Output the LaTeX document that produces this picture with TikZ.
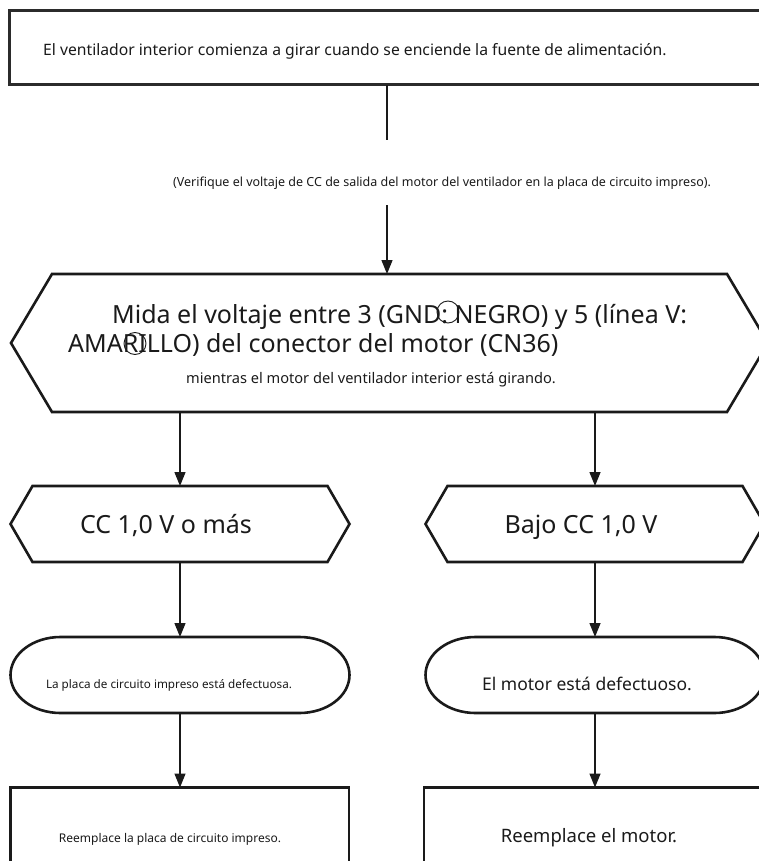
\documentclass[tikz,border=0pt]{standalone}
\usepackage{fontspec}
\setmainfont{Noto Sans}
\usetikzlibrary{arrows.meta}

\definecolor{ink}{HTML}{1A1A1A}
\definecolor{frame}{HTML}{2B2B2B}

\newcommand\fs[1]{\fontsize{#1}{1.2\dimexpr#1pt\relax}\selectfont}

\tikzset{
  shapebox/.style={inner sep=0pt, outer sep=0pt, minimum width=#1},
  rectbox/.style={draw=frame, line width=2.7pt, inner sep=0pt, outer sep=0pt},
  outline/.style={draw=ink, line width=2.6pt, line join=miter},
  flow/.style={draw=ink, line width=1.4pt, -{Triangle[length=14pt,width=11pt]}},
  plain/.style={draw=ink, line width=1.4pt},
  label/.style={inner sep=0pt, text=ink},
  ring/.style={draw=ink, line width=0.9pt},
}

\begin{document}
\begin{tikzpicture}[x=1pt, y=-1pt]
\useasboundingbox (0,0) rectangle (758,861);

% ---------- column guides ----------
\coordinate (c0) at (387,0);
\coordinate (cl) at (180,0);
\coordinate (cr) at (595,0);

% ---------- start box ----------
\node[rectbox, minimum width=761.5pt, minimum height=74.4pt, anchor=north west] (start) at (9.5,10.3) {};
\node[label, anchor=base west, font=\fs{15.7}] (start-t) at (43,56) {El ventilador interior comienza a girar cuando se enciende la fuente de alimentación.};

% ---------- note on the connector ----------
\node[label, font=\fs{12.5}] (note) at (442,183) {(Verifique el voltaje de CC de salida del motor del ventilador en la placa de circuito impreso).};
\coordinate (gap-top) at (387,140);
\coordinate (gap-bot) at (387,205);

% ---------- measurement hexagon ----------
\node[shapebox=757pt, minimum height=138pt] (meas) at (389.5,343) {};
\draw[outline] (meas.west) -- ([xshift=41pt]meas.north west) -- ([xshift=-41pt]meas.north east)
  -- (meas.east) -- ([xshift=-41pt]meas.south east) -- ([xshift=41pt]meas.south west) -- cycle;
\node[label, anchor=base west, font=\fs{25}] (meas-a) at (112,323) {Mida el voltaje entre 3 (GND: NEGRO) y 5 (línea V:};
\node[label, anchor=base west, font=\fs{25}] (meas-b) at (68,352) {AMARILLO) del conector del motor (CN36)};
\node[label, anchor=base, font=\fs{14.6}] (meas-c) at (371,383) {mientras el motor del ventilador interior está girando.};
% rings printed over the first two lines
\draw[ring] (448,312) circle[radius=11pt];
\draw[ring] (135,343.5) circle[radius=11pt];

% ---------- result hexagons ----------
\node[shapebox=339pt, minimum height=76pt] (hi) at (180,524) {};
\draw[outline] (hi.west) -- ([xshift=22pt]hi.north west) -- ([xshift=-22pt]hi.north east)
  -- (hi.east) -- ([xshift=-22pt]hi.south east) -- ([xshift=22pt]hi.south west) -- cycle;
\node[label, anchor=base, font=\fs{25}] (hi-t) at (166,533) {CC 1,0 V o más};

\node[shapebox=339pt, minimum height=76pt] (lo) at (595,524) {};
\draw[outline] (lo.west) -- ([xshift=22pt]lo.north west) -- ([xshift=-22pt]lo.north east)
  -- (lo.east) -- ([xshift=-22pt]lo.south east) -- ([xshift=22pt]lo.south west) -- cycle;
\node[label, anchor=base, font=\fs{25}] (lo-t) at (581,533) {Bajo CC 1,0 V};

% ---------- diagnosis terminals ----------
\node[shapebox=339pt, minimum height=76pt] (pcb) at (180,675) {};
\draw[outline] ([xshift=50pt]pcb.north west) -- ([xshift=-50pt]pcb.north east)
  arc[start angle=90, end angle=-90, x radius=50pt, y radius=38pt]
  -- ([xshift=50pt]pcb.south west)
  arc[start angle=270, end angle=90, x radius=50pt, y radius=38pt] -- cycle;
\node[label, anchor=base, font=\fs{11.7}] (pcb-t) at (169,688) {La placa de circuito impreso está defectuosa.};

\node[shapebox=339pt, minimum height=76pt] (mot) at (595,675) {};
\draw[outline] ([xshift=50pt]mot.north west) -- ([xshift=-50pt]mot.north east)
  arc[start angle=90, end angle=-90, x radius=50pt, y radius=38pt]
  -- ([xshift=50pt]mot.south west)
  arc[start angle=270, end angle=90, x radius=50pt, y radius=38pt] -- cycle;
\node[label, anchor=base, font=\fs{17.5}] (mot-t) at (587,690) {El motor está defectuoso.};

% ---------- actions ----------
\node[rectbox, line width=2.6pt, draw=ink, minimum width=338.5pt, minimum height=102pt, anchor=north west] (fixpcb) at (10.5,787.5) {};
\node[label, anchor=base, font=\fs{12}] (fixpcb-t) at (170,842) {Reemplace la placa de circuito impreso.};

\node[rectbox, line width=2.6pt, draw=ink, minimum width=345pt, minimum height=102pt, anchor=north west] (fixmot) at (424,787.5) {};
\node[label, anchor=base, font=\fs{18.5}] (fixmot-t) at (589,842) {Reemplace el motor.};

% ---------- connectors ----------
\draw[plain] (start.south -| c0) -- (gap-top);
\draw[flow] (gap-bot) -- (meas.north -| c0);
\draw[flow] (meas.south -| cl) -- (hi.north);
\draw[flow] (meas.south -| cr) -- (lo.north);
\draw[flow] (hi.south) -- (pcb.north);
\draw[flow] (lo.south) -- (mot.north);
\draw[flow] (pcb.south) -- (fixpcb.north -| cl);
\draw[flow] (mot.south) -- (fixmot.north -| cr);
\end{tikzpicture}
\end{document}
